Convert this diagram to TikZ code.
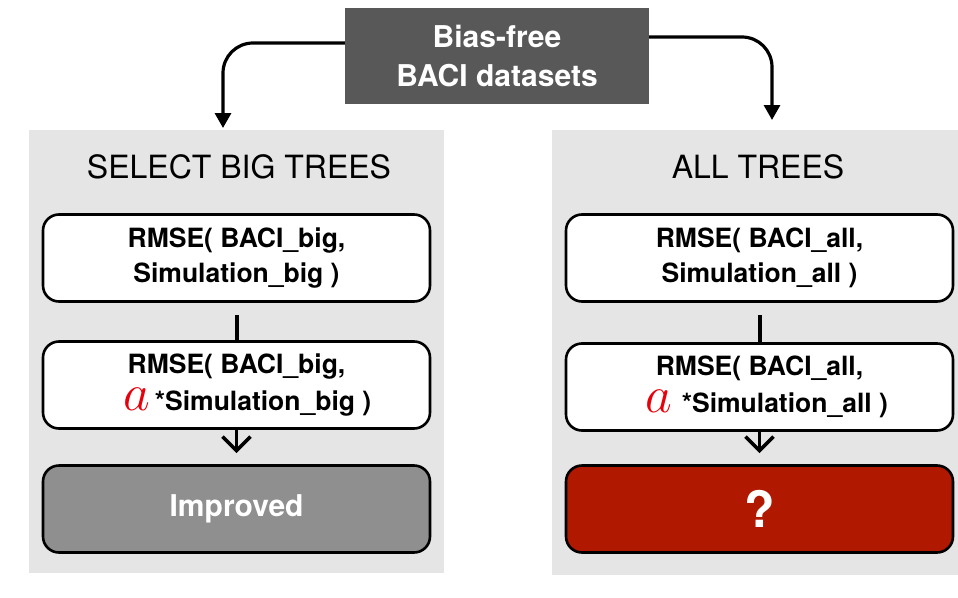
\RequirePackage{fix-cm}
\documentclass[tikz,border=0pt]{standalone}
\usepackage{fontspec}
\setmainfont{TeX Gyre Heros}
\usetikzlibrary{arrows.meta}
\definecolor{srcgray}{HTML}{585858}
\definecolor{panelgray}{HTML}{E5E5E5}
\definecolor{impgray}{HTML}{8F8F8F}
\definecolor{qred}{HTML}{B01800}
\definecolor{ared}{HTML}{E8000B}
\tikzset{
  panel/.style={fill=panelgray, draw=none, inner sep=0pt},
  rbox/.style={draw=black, line width=2.6pt, rounded corners=16pt, minimum width=387pt, minimum height=87pt, inner sep=0pt, align=center, font=\fontsize{26.5}{35}\selectfont\bfseries},
  title/.style={font=\fontsize{32}{38}\selectfont},
  conn/.style={line width=3.2pt, rounded corners=30pt, -{Triangle[length=15pt,width=16pt]}},
  plainline/.style={line width=4pt},
  chev/.style={line width=3.6pt, -{Straight Barb[length=14pt,width=28pt,line width=3.6pt]}},
}
\newcommand{\redA}{\smash{\color{ared}\fontsize{52}{52}\selectfont$a$}}
\begin{document}
\begin{tikzpicture}[x=1pt,y=-1pt]
\useasboundingbox (0,0) rectangle (958,597);
% source
\node[fill=srcgray, minimum width=304pt, minimum height=96pt, inner sep=0pt, align=center, text=white, font=\fontsize{30}{38.5}\selectfont\bfseries] (src) at (497,56) {Bias-free\\BACI datasets};
% panels
\node[panel, minimum width=415pt, minimum height=443pt] (pL) at (236.5,351.5) {};
\node[panel, minimum width=406pt, minimum height=445pt] (pR) at (755,352.5) {};
\node[title] (tL) at (239,167) {SELECT BIG TREES};
\node[title] (tR) at (758,167) {ALL TREES};
% left boxes
\node[rbox, fill=white] (l1) at (236.5,258) {RMSE( BACI\_big,\\Simulation\_big )};
\node[rbox, fill=white] (l2) at (236.5,385) {RMSE( BACI\_big,\\[2pt]\hspace*{22pt}\redA\,*Simulation\_big )};
\node[rbox, fill=impgray, text=white, font=\fontsize{30}{35}\selectfont\bfseries] (l3) at (236.5,509) {Improved};
% right boxes
\node[rbox, fill=white] (r1) at (759.5,258) {RMSE( BACI\_all,\\Simulation\_all )};
\node[rbox, fill=white] (r2) at (759.5,387) {RMSE( BACI\_all,\\[2pt]\hspace*{14pt}\redA\hspace{10pt}*Simulation\_all )};
\node[rbox, fill=qred, text=white, font=\fontsize{50}{50}\selectfont\bfseries] (r3) at (759.5,509) {?};
% connectors from source
\coordinate (aL) at (223,128);
\coordinate (aR) at (772,120);
\draw[conn] ([yshift=13pt]src.west) -| (aL);
\draw[conn] ([yshift=19pt]src.east) -| (aR);
% inner connectors
\draw[plainline, shorten <=12pt] (l1.south) -- (l2.north);
\draw[plainline, shorten <=12pt] (r1.south) -- (r2.north);
\draw[chev, shorten >=11pt] (l2.south) -- (l3.north);
\draw[chev, shorten >=11pt] (r2.south) -- (r3.north);
\end{tikzpicture}
\end{document}
